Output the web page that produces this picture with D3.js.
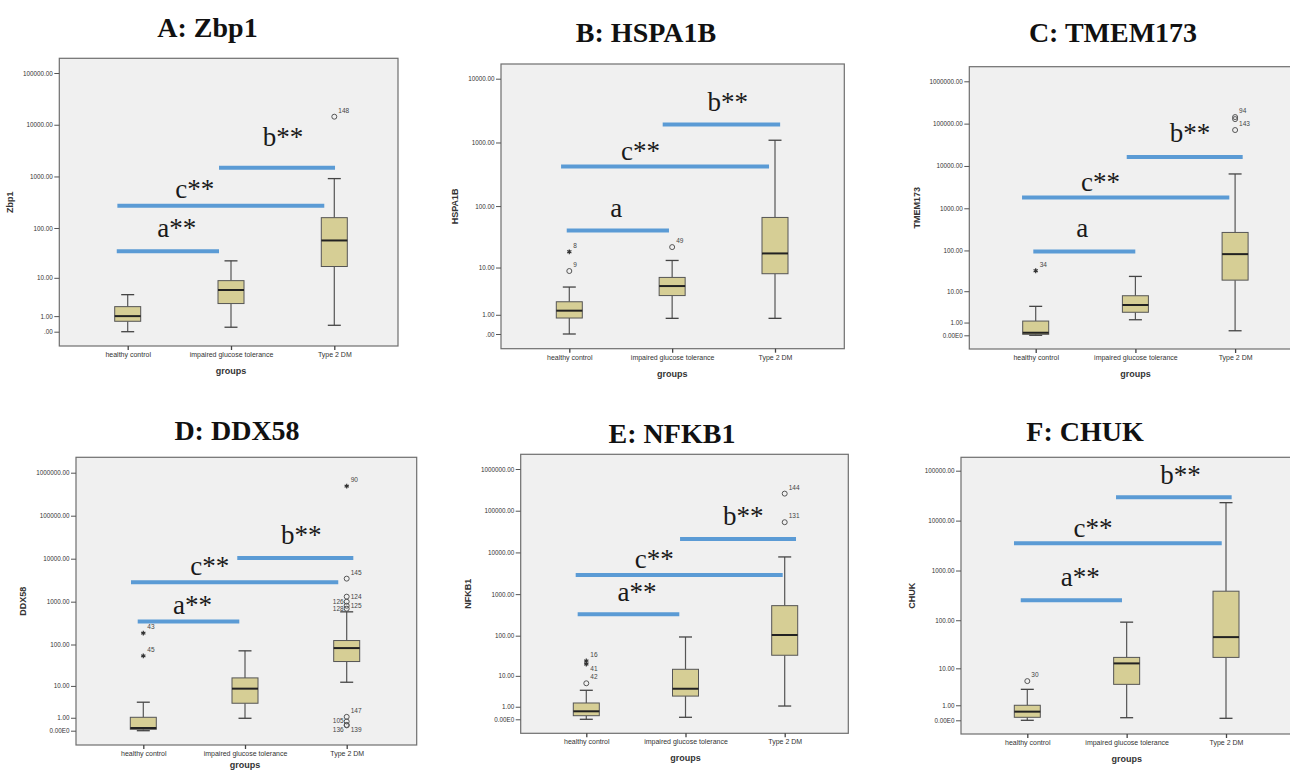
<!DOCTYPE html>
<html><head><meta charset="utf-8">
<script src="https://cdn.jsdelivr.net/npm/d3@7"></script>
<style>body{margin:0;background:#fff} svg{display:block;overflow:hidden}</style>
</head><body><svg id="chart" width="1290" height="773"></svg>
<script>
// ---------- DATA ----------
const categories = ["healthy control", "impaired glucose tolerance", "Type 2 DM"];
const xAxisTitle = "groups";
const panelTitles = ["A: Zbp1", "B: HSPA1B", "C: TMEM173", "D: DDX58", "E: NFKB1", "F: CHUK"];
const yAxisTitles = ["Zbp1", "HSPA1B", "TMEM173", "DDX58", "NFKB1", "CHUK"];

const ticks5 = [0, 1, 10, 100, 1000, 10000, 100000];
const ticks4 = [0, 1, 10, 100, 1000, 10000];
const ticks6 = [0, 1, 10, 100, 1000, 10000, 100000, 1000000];
const tickLabelsA = [".00", "1.00", "10.00", "100.00", "1000.00", "10000.00", "100000.00"];
const tickLabelsB = [".00", "1.00", "10.00", "100.00", "1000.00", "10000.00"];
const tickLabelsE6 = ["0.00E0", "1.00", "10.00", "100.00", "1000.00", "10000.00", "100000.00", "1000000.00"];
const tickLabelsE5 = ["0.00E0", "1.00", "10.00", "100.00", "1000.00", "10000.00", "100000.00"];

// [min, Q1, median, Q3, max] per group
const zbp1Boxes    = [[0, 0.59, 1.0, 2.05, 4.2], [0.22, 2.5, 5.4, 8.7, 22.4], [0.33, 17.2, 57, 159, 909]];
const hspa1bBoxes  = [[0, 0.78, 1.32, 2.2, 4.44], [0.76, 3.0, 4.64, 6.7, 13.2], [0.76, 7.8, 17.3, 66, 1085]];
const tmem173Boxes = [[0, 0.055, 0.15, 1.17, 3.83], [1.33, 2.5, 4.2, 7.6, 23.6], [0.28, 19.1, 81.7, 268, 6474]];
const ddx58Boxes   = [[0, 0.078, 0.156, 1.05, 3.6], [0.945, 3.35, 8.5, 15.9, 71], [12.4, 39.6, 82.4, 124, 580]];
const nfkb1Boxes   = [[0, 0.22, 0.555, 1.46, 3.96], [0.117, 2.6, 4.4, 14.8, 93], [1.08, 33.3, 104, 529, 7800]];
const chukBoxes    = [[0, 0.148, 0.49, 1.0, 3.17], [0.127, 4.25, 12.8, 17.2, 91.5], [0.096, 17.2, 45.4, 384.5, 22900]];

// outliers: group index, value, case label, marker kind
const zbp1Outliers = [{g: 2, v: 14300, id: "148", kind: "o"}];
const hspa1bOutliers = [{g: 0, v: 18.4, id: "8", kind: "*"}, {g: 0, v: 8.7, id: "9", kind: "o"}, {g: 1, v: 22, id: "49", kind: "o"}];
const tmem173Outliers = [{g: 0, v: 32.4, id: "34", kind: "*"}, {g: 2, v: 143000, id: "94", kind: "o"},
  {g: 2, v: 128000, id: "143", kind: "o"}, {g: 2, v: 70600, id: "", kind: "o"}];
const ddx58Outliers = [{g: 0, v: 185, id: "43", kind: "*"}, {g: 0, v: 54, id: "45", kind: "*"},
  {g: 2, v: 487000, id: "90", kind: "*"}, {g: 2, v: 3436, id: "145", kind: "o"},
  {g: 2, v: 1308, id: "124", kind: "o"}, {g: 2, v: 999, id: "126", kind: "o"},
  {g: 2, v: 806, id: "125", kind: "o"}, {g: 2, v: 686, id: "128", kind: "o"},
  {g: 2, v: 1.1, id: "147", kind: "o"}, {g: 2, v: 0.64, id: "105", kind: "o"},
  {g: 2, v: 0.36, id: "136", kind: "o"}, {g: 2, v: 0.33, id: "139", kind: "o"}];
const nfkb1Outliers = [{g: 0, v: 24, id: "16", kind: "*"}, {g: 0, v: 20, id: "41", kind: "*"},
  {g: 0, v: 6.3, id: "42", kind: "o"}, {g: 2, v: 257000, id: "144", kind: "o"}, {g: 2, v: 53000, id: "131", kind: "o"}];
const chukOutliers = [{g: 0, v: 5.1, id: "30", kind: "o"}];

// significance bars: text, from/to group position, bar value, label position (group pos, value)
const zbp1Sig = [{t: "a**", from: -0.106, to: 0.884, v: 35, lx: 0.474, lv: 68},
  {t: "c**", from: -0.10, to: 1.903, v: 272, lx: 0.65, lv: 389},
  {t: "b**", from: 0.884, to: 2.007, v: 1467, lx: 1.503, lv: 3846}];
const hspa1bSig = [{t: "a", from: -0.025, to: 0.969, v: 41, lx: 0.457, lv: 67.5},
  {t: "c**", from: -0.08, to: 1.942, v: 420, lx: 0.692, lv: 541},
  {t: "b**", from: 0.908, to: 2.05, v: 1913, lx: 1.54, lv: 3120}];
const tmem173Sig = [{t: "a", from: -0.024, to: 0.999, v: 94.8, lx: 0.466, lv: 204},
  {t: "c**", from: -0.137, to: 1.942, v: 1797, lx: 0.65, lv: 2570},
  {t: "b**", from: 0.913, to: 2.076, v: 16300, lx: 1.548, lv: 36800}];
const ddx58Sig = [{t: "a**", from: -0.055, to: 0.944, v: 346, lx: 0.484, lv: 524},
  {t: "c**", from: -0.121, to: 1.917, v: 2818, lx: 0.653, lv: 4100},
  {t: "b**", from: 0.924, to: 2.065, v: 10440, lx: 1.554, lv: 22500}];
const nfkb1Sig = [{t: "a**", from: -0.087, to: 0.9375, v: 328, lx: 0.511, lv: 698},
  {t: "c**", from: -0.107, to: 1.98, v: 2885, lx: 0.684, lv: 4180},
  {t: "b**", from: 0.945, to: 2.114, v: 21000, lx: 1.583, lv: 45600}];
const chukSig = [{t: "a**", from: -0.066, to: 0.953, v: 253.7, lx: 0.534, lv: 485},
  {t: "c**", from: -0.134, to: 1.957, v: 3516, lx: 0.661, lv: 4700},
  {t: "b**", from: 0.893, to: 2.057, v: 29250, lx: 1.542, lv: 55000}];

// ---------- LAYOUT / STYLE ----------
const panels = [
  {boxes: zbp1Boxes, out: zbp1Outliers, sig: zbp1Sig, ticks: ticks5, labels: tickLabelsA},
  {boxes: hspa1bBoxes, out: hspa1bOutliers, sig: hspa1bSig, ticks: ticks4, labels: tickLabelsB},
  {boxes: tmem173Boxes, out: tmem173Outliers, sig: tmem173Sig, ticks: ticks6, labels: tickLabelsE6},
  {boxes: ddx58Boxes, out: ddx58Outliers, sig: ddx58Sig, ticks: ticks6, labels: tickLabelsE6},
  {boxes: nfkb1Boxes, out: nfkb1Outliers, sig: nfkb1Sig, ticks: ticks6, labels: tickLabelsE6},
  {boxes: chukBoxes, out: chukOutliers, sig: chukSig, ticks: ticks5, labels: tickLabelsE5}
];
const layouts = [
  {fx0: 59.3, fy0: 58.3, fx1: 398, fy1: 346, zeroY: 331.7, topY: 73, cx0: 127.7, step: 103.3, tx: 207.5, ty: 37},
  {fx0: 501, fy0: 64, fx1: 844.3, fy1: 348.7, zeroY: 334, topY: 78.7, cx0: 569.3, step: 102.85, tx: 646, ty: 42},
  {fx0: 969.3, fy0: 66.7, fx1: 1302, fy1: 349, zeroY: 335.3, topY: 81.3, cx0: 1035.7, step: 99.7, tx: 1113, ty: 42},
  {fx0: 76, fy0: 457.3, fx1: 416.7, fy1: 745, zeroY: 730.7, topY: 472.7, cx0: 143.3, step: 101.7, tx: 237, ty: 440},
  {fx0: 520.7, fy0: 454.3, fx1: 848.3, fy1: 733.3, zeroY: 719.3, topY: 469, cx0: 586.3, step: 99.2, tx: 672, ty: 443},
  {fx0: 961, fy0: 457.3, fx1: 1293, fy1: 734, zeroY: 720.3, topY: 470.7, cx0: 1027.3, step: 99.35, tx: 1085, ty: 441}
];
const labelPlace = {"124": "r", "126": "l", "128": "l", "105": "l", "136": "dl", "139": "dr", "41": "dr", "143": "dr", "125": "r", "147": "ur"};

const SANS = "'Liberation Sans', Arial, sans-serif";
const SERIF = "'Liberation Serif', 'Times New Roman', serif";
const BOX_FILL = "#d6ce95", BLUE = "#5b9bd5";

const svg = d3.select("#chart");
svg.append("rect").attr("width", 1290).attr("height", 773).attr("fill", "#fff");

panels.forEach((p, k) => {
  const L = layouts[k];
  const g = svg.append("g");
  const y = d3.scaleSymlog().constant(1).domain([0, p.ticks[p.ticks.length - 1]]).range([L.zeroY, L.topY]);
  const x = d3.scaleLinear().domain([0, 2]).range([L.cx0, L.cx0 + 2 * L.step]);

  // title
  svg.append("text").attr("x", L.tx).attr("y", L.ty).attr("text-anchor", "middle")
    .attr("font-family", SERIF).attr("font-weight", "bold").attr("font-size", 28).attr("fill", "#111")
    .text(panelTitles[k]);

  // frame
  g.append("rect").attr("x", L.fx0).attr("y", L.fy0).attr("width", L.fx1 - L.fx0).attr("height", L.fy1 - L.fy0)
    .attr("fill", "#f0f0f0").attr("stroke", "#6e6e6e").attr("stroke-width", 1.2);

  // y axis
  const ya = g.append("g").attr("transform", `translate(${L.fx0},0)`)
    .call(d3.axisLeft(y).tickValues(p.ticks).tickFormat((d, i) => p.labels[i]).tickSize(5).tickPadding(1.5));
  ya.select(".domain").remove();
  ya.selectAll("line").attr("stroke", "#555");
  ya.selectAll("text").attr("font-family", SANS).attr("font-size", 6.3).attr("fill", "#333");
  const bb = ya.node().getBBox();
  const titleX = Math.max(8, L.fx0 + bb.x - 10);
  g.append("text").attr("transform", `translate(${titleX},${(L.fy0 + L.fy1) / 2}) rotate(-90)`)
    .attr("text-anchor", "middle").attr("font-family", SANS).attr("font-weight", "bold").attr("font-size", 9)
    .attr("fill", "#333").text(yAxisTitles[k]);

  // x axis
  const xa = g.append("g").attr("transform", `translate(0,${L.fy1})`)
    .call(d3.axisBottom(x).tickValues([0, 1, 2]).tickFormat(i => categories[i]).tickSize(4).tickPadding(2));
  xa.select(".domain").remove();
  xa.selectAll("line").attr("stroke", "#444").attr("stroke-width", 1.3);
  xa.selectAll("text").attr("font-family", SANS).attr("font-size", 7).attr("fill", "#333");
  g.append("text").attr("x", x(1)).attr("y", Math.min(L.fy1 + 28, 768)).attr("text-anchor", "middle")
    .attr("font-family", SANS).attr("font-weight", "bold").attr("font-size", 9).attr("fill", "#333").text(xAxisTitle);

  // boxes
  const bw = 26, cw = 13;
  p.boxes.forEach((b, i) => {
    const cx = x(i);
    const [mn, q1, md, q3, mx] = b;
    g.append("line").attr("x1", cx).attr("x2", cx).attr("y1", y(mn)).attr("y2", y(q1)).attr("stroke", "#555").attr("stroke-width", 1.2);
    g.append("line").attr("x1", cx).attr("x2", cx).attr("y1", y(q3)).attr("y2", y(mx)).attr("stroke", "#555").attr("stroke-width", 1.2);
    [mn, mx].forEach(v => g.append("line").attr("x1", cx - cw / 2).attr("x2", cx + cw / 2).attr("y1", y(v)).attr("y2", y(v))
      .attr("stroke", "#444").attr("stroke-width", 1.3));
    g.append("rect").attr("x", cx - bw / 2).attr("y", y(q3)).attr("width", bw).attr("height", Math.max(1, y(q1) - y(q3)))
      .attr("fill", BOX_FILL).attr("stroke", "#555").attr("stroke-width", 1);
    g.append("line").attr("x1", cx - bw / 2).attr("x2", cx + bw / 2).attr("y1", y(md)).attr("y2", y(md))
      .attr("stroke", "#222").attr("stroke-width", 2);
  });

  // outliers
  const star = d3.symbol(d3.symbolAsterisk || d3.symbolCross).size(16);
  p.out.forEach(o => {
    const cx = x(o.g), cy = y(o.v);
    if (o.kind === "o") {
      g.append("circle").attr("cx", cx).attr("cy", cy).attr("r", 2.5).attr("fill", "none").attr("stroke", "#555").attr("stroke-width", 1);
    } else {
      g.append("path").attr("d", star()).attr("transform", `translate(${cx},${cy})`).attr("stroke", "#333").attr("stroke-width", 1.2).attr("fill", "#333");
    }
    if (o.id) {
      const pl = labelPlace[o.id] || "ur";
      let tx = cx + 4, ty = cy - 4, anchor = "start";
      if (pl === "r") { ty = cy + 2; }
      if (pl === "dr") { ty = cy + 7; }
      if (pl === "l") { tx = cx - 3; ty = cy + 2; anchor = "end"; }
      if (pl === "dl") { tx = cx - 3; ty = cy + 7; anchor = "end"; }
      g.append("text").attr("x", tx).attr("y", ty).attr("text-anchor", anchor)
        .attr("font-family", SANS).attr("font-size", 6.5).attr("fill", "#444").text(o.id);
    }
  });

  // significance bars
  p.sig.forEach(s => {
    g.append("line").attr("x1", x(s.from)).attr("x2", x(s.to)).attr("y1", y(s.v)).attr("y2", y(s.v))
      .attr("stroke", BLUE).attr("stroke-width", 4);
    g.append("text").attr("x", x(s.lx)).attr("y", y(s.lv)).attr("text-anchor", "middle")
      .attr("font-family", SERIF).attr("font-size", 27).attr("fill", "#1a1a1a").text(s.t);
  });
});
</script>
</body></html>
